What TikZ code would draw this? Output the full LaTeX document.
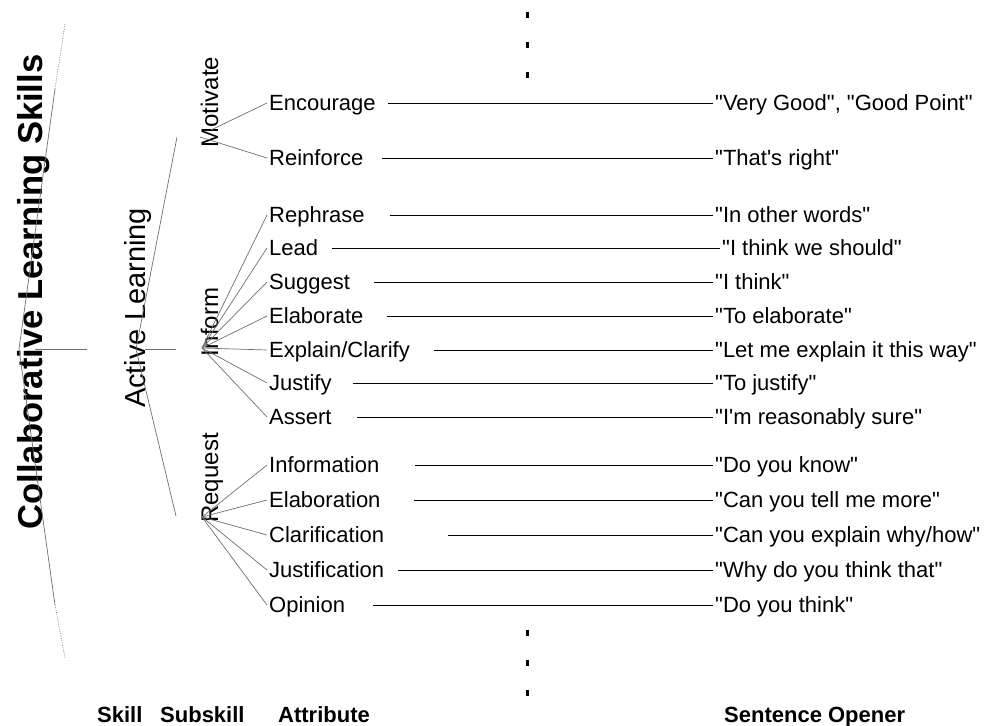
\documentclass[tikz,border=0pt]{standalone}
\usepackage{fontspec}
\setmainfont{Liberation Sans}[Ligatures=TeXOff]
\definecolor{treegray}{RGB}{110,110,110}
\begin{document}
\begin{tikzpicture}[x=1pt,y=-1pt,
  txt/.style={inner xsep=2pt,inner ysep=0pt,text height=15.75pt,text depth=0pt,
    font=\fontsize{22}{26}\selectfont,anchor=west},
  attr/.style={txt},
  opener/.style={txt},
  lab/.style={inner xsep=0pt,inner ysep=0pt,text height=15.75pt,text depth=0pt,
    font=\fontsize{22}{26}\selectfont\bfseries,anchor=west},
  sub/.style={rotate=90,anchor=base,inner sep=0pt,font=\fontsize{24}{28}\selectfont},
  link/.style={line width=1pt,black},
  branch/.style={line width=0.7pt,treegray},
  dotline/.style={line width=0.7pt,treegray,dash pattern=on 0.8pt off 1.6pt},
  dotmark/.style={rectangle,fill=black,inner sep=0pt,minimum width=3pt,minimum height=6pt}
]
\useasboundingbox (0,0) rectangle (986,726);

% skill and subskill titles
\node[rotate=90,anchor=base,inner sep=0pt,font=\fontsize{34.6}{40}\selectfont\bfseries]
  (skill) at (42,292) {Collaborative Learning Skills};
\node[rotate=90,anchor=base,inner sep=0pt,font=\fontsize{29}{34}\selectfont]
  (active) at (145,308) {Active Learning};
\node[sub] (motivate) at (218,102) {Motivate};
\node[sub] (inform) at (218,322) {Inform};
\node[sub] (request) at (218,478) {Request};

% skill bracket
\coordinate (ct) at (65,24);
\coordinate (cta) at (55,89);
\coordinate (capex) at (19,349);
\coordinate (cba) at (55,605);
\coordinate (cb) at (65,658);
\coordinate (ch0) at (35,349);
\coordinate (ch1) at (87,349);
\draw[dotline] (ct) -- (cta);
\draw[branch] (cta) -- (capex) -- (cba);
\draw[dotline] (cba) -- (cb);
\draw[branch] (ch0) -- (ch1);

% subskill bracket
\coordinate (at) at (177,137);
\coordinate (aapex) at (136,349);
\coordinate (ab) at (176,516);
\coordinate (ah0) at (145,349);
\coordinate (ah1) at (176,349);
\draw[branch] (at) -- (aapex) -- (ab);
\draw[branch] (ah0) -- (ah1);

% branch origins
\coordinate (mot1) at (211,130);
\coordinate (mot2) at (200,137);
\coordinate (inf) at (202,348);
\coordinate (req) at (202,517);

% attributes
\node[attr] (a1) at (267,103) {Encourage};
\node[attr] (a2) at (267,158) {Reinforce};
\node[attr] (a3) at (267,215) {Rephrase};
\node[attr] (a4) at (267,248) {Lead};
\node[attr] (a5) at (267,282) {Suggest};
\node[attr] (a6) at (267,316) {Elaborate};
\node[attr] (a7) at (267,350) {Explain/Clarify};
\node[attr] (a8) at (267,383) {Justify};
\node[attr] (a9) at (267,417) {Assert};
\node[attr] (a10) at (267,465) {Information};
\node[attr] (a11) at (267,500) {Elaboration};
\node[attr] (a12) at (267,535) {Clarification};
\node[attr] (a13) at (267,570) {Justification};
\node[attr] (a14) at (267,605) {Opinion};

% sentence openers
\node[opener] (o1) at (713,103) {"Very Good", "Good Point"};
\node[opener] (o2) at (713,158) {"That's right"};
\node[opener] (o3) at (713,215) {"In other words"};
\node[opener] (o4) at (720,248) {"I think we should"};
\node[opener] (o5) at (713,282) {"I think"};
\node[opener] (o6) at (713,316) {"To elaborate"};
\node[opener] (o7) at (713,350) {"Let me explain it this way"};
\node[opener] (o8) at (713,383) {"To justify"};
\node[opener] (o9) at (713,417) {"I'm reasonably sure"};
\node[opener] (o10) at (713,465) {"Do you know"};
\node[opener] (o11) at (713,500) {"Can you tell me more"};
\node[opener] (o12) at (713,535) {"Can you explain why/how"};
\node[opener] (o13) at (713,570) {"Why do you think that"};
\node[opener] (o14) at (713,605) {"Do you think"};

% tree branches
\draw[branch] (mot1) -- (a1.west);
\draw[branch] (mot2) -- (a2.west);
\foreach \i in {3,...,9} {\draw[branch] (inf) -- (a\i.west);}
\foreach \i in {10,...,14} {\draw[branch] (req) -- (a\i.west);}

% links attribute -> opener
\coordinate (s1) at (388,103);
\coordinate (s2) at (382,158);
\coordinate (s3) at (390,215);
\coordinate (s4) at (332,248);
\coordinate (s5) at (374,282);
\coordinate (s6) at (387,316);
\coordinate (s7) at (434,350);
\coordinate (s8) at (353,383);
\coordinate (s9) at (357,417);
\coordinate (s10) at (415,465);
\coordinate (s11) at (414,500);
\coordinate (s12) at (448,535);
\coordinate (s13) at (398,570);
\coordinate (s14) at (373,605);
\foreach \i in {1,...,14} {\draw[link] (s\i) -- (o\i.west);}

% ellipsis dots
\node[dotmark] (d1) at (527,15) {};
\node[dotmark] (d2) at (527,45) {};
\node[dotmark] (d3) at (527,75) {};
\node[dotmark] (d4) at (527,633) {};
\node[dotmark] (d5) at (527,663) {};
\node[dotmark] (d6) at (527,693) {};

% column labels
\node[lab] (lskill) at (97,715) {Skill};
\node[lab] (lsub) at (160,715) {Subskill};
\node[lab] (lattr) at (278,715) {Attribute};
\node[lab] (lopen) at (724,715) {Sentence Opener};
\end{tikzpicture}
\end{document}
